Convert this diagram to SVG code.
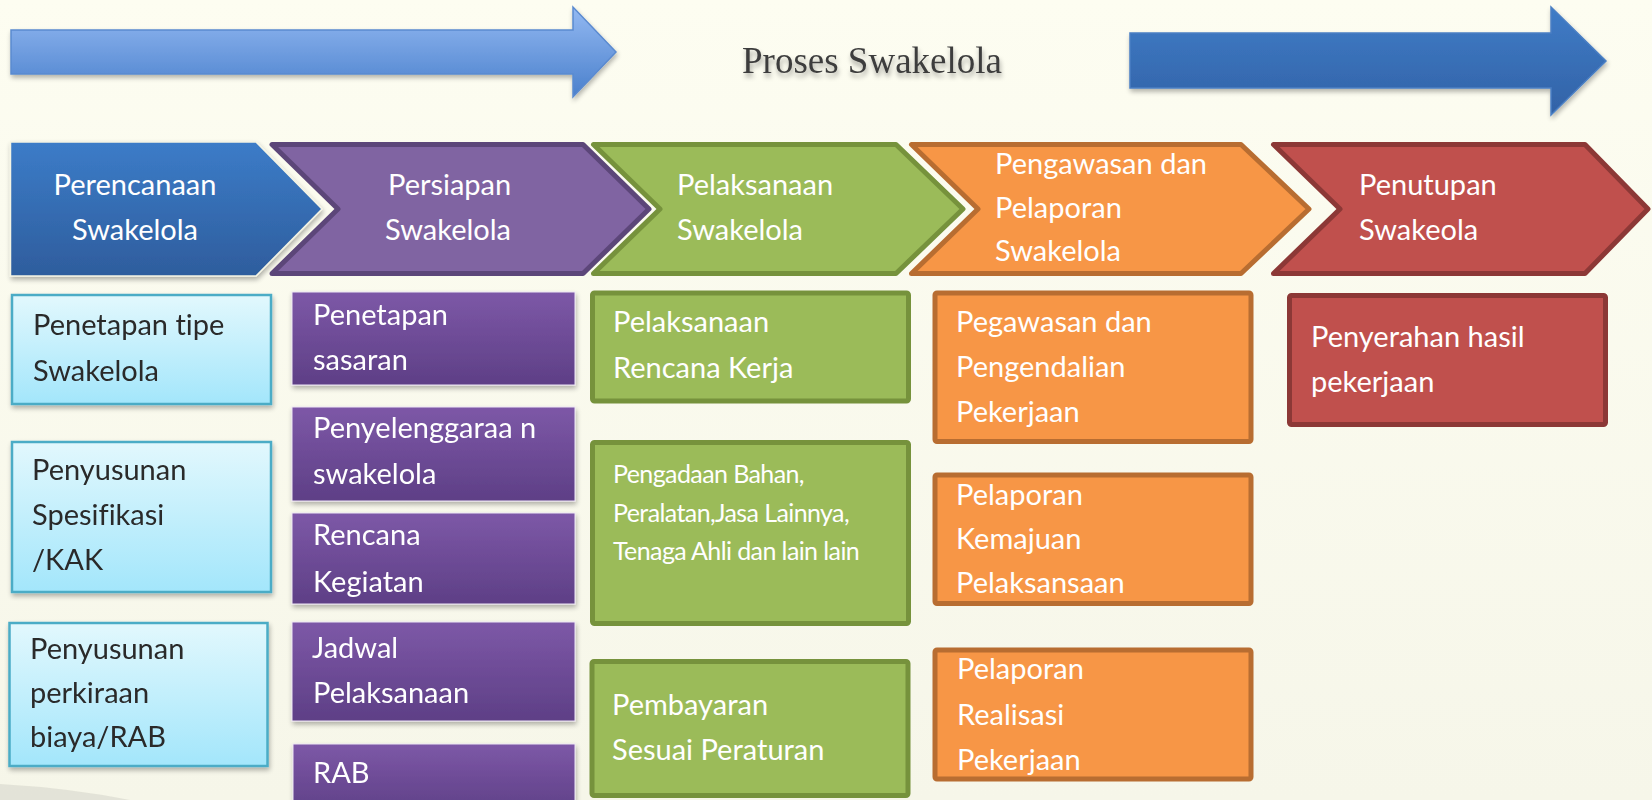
<svg xmlns="http://www.w3.org/2000/svg" width="1652" height="800" viewBox="0 0 1652 800">
<defs>
  <linearGradient id="bg" x1="0" y1="0" x2="0" y2="1">
    <stop offset="0" stop-color="#fdfdf1"/>
    <stop offset="1" stop-color="#f6f6e9"/>
  </linearGradient>
  <linearGradient id="gArrowL" x1="0" y1="0" x2="0" y2="1">
    <stop offset="0" stop-color="#93b9f2"/>
    <stop offset="1" stop-color="#4a80cc"/>
  </linearGradient>
  <linearGradient id="gArrowR" x1="0" y1="0" x2="0" y2="1">
    <stop offset="0" stop-color="#3f7cc7"/>
    <stop offset="1" stop-color="#3262a6"/>
  </linearGradient>
  <linearGradient id="gBlueChev" x1="0" y1="0" x2="0" y2="1">
    <stop offset="0" stop-color="#3c7cc8"/>
    <stop offset="1" stop-color="#2e5d9d"/>
  </linearGradient>
  <linearGradient id="gCyan" x1="0" y1="0" x2="0" y2="1">
    <stop offset="0" stop-color="#e2f8fd"/>
    <stop offset="1" stop-color="#a3e6fb"/>
  </linearGradient>
  <linearGradient id="gPurple" x1="0" y1="0" x2="0" y2="1">
    <stop offset="0" stop-color="#7d58a7"/>
    <stop offset="1" stop-color="#5e3f86"/>
  </linearGradient>
  <filter id="shadow" x="-10%" y="-10%" width="120%" height="130%">
    <feGaussianBlur in="SourceAlpha" stdDeviation="2.5"/>
    <feOffset dx="1" dy="3" result="b"/>
    <feComponentTransfer><feFuncA type="linear" slope="0.3"/></feComponentTransfer>
    <feMerge><feMergeNode/><feMergeNode in="SourceGraphic"/></feMerge>
  </filter>
  <filter id="tshadow" x="-10%" y="-30%" width="120%" height="180%">
    <feGaussianBlur in="SourceAlpha" stdDeviation="2.5"/>
    <feOffset dx="1" dy="4"/>
    <feComponentTransfer><feFuncA type="linear" slope="0.35"/></feComponentTransfer>
    <feMerge><feMergeNode/><feMergeNode in="SourceGraphic"/></feMerge>
  </filter>
</defs>
<style>
  .t { font-family: Lato, "Liberation Sans", sans-serif; font-size: 29px; font-variant-ligatures: none; }
  .w { fill: #ffffff; }
  .d { fill: #2a2a2a; }
  .sm { font-size: 25px; letter-spacing: -0.6px; }
  .cyan { fill: url(#gCyan); stroke: #4bacc6; stroke-width: 2.5; }
  .purp { fill: url(#gPurple); stroke: #ede6f4; stroke-width: 1; }
  .green { fill: #9bbb59; stroke: #76923c; stroke-width: 5; }
  .orange { fill: #f79646; stroke: #b86d31; stroke-width: 5; }
  .red { fill: #c0504d; stroke: #8c3836; stroke-width: 5; }
</style>
<rect width="1652" height="800" fill="url(#bg)"/>
<path d="M0,784 Q70,788 130,800 L0,800 Z" fill="#dcdcd0" opacity="0.7"/>

<g id="process-arrows">
  <polygon points="11,30 573,30 573,7 616,52 573,97 573,74 11,74" fill="url(#gArrowL)" stroke="#5a8ad0" stroke-width="1.5" filter="url(#shadow)"/>
  <polygon points="1130,33 1551,33 1551,7 1606,61 1551,115 1551,88 1130,88" fill="url(#gArrowR)" stroke="#4a7fc4" stroke-width="1.5" filter="url(#shadow)"/>
</g>

<g id="title">
  <text x="742" y="73" font-family="'Liberation Serif', 'Times New Roman', serif" font-size="37" fill="#3e3e3e" filter="url(#tshadow)">Proses Swakelola</text>
</g>

<g id="stage-perencanaan">
  <polygon points="10.5,142 256,142 322,209 256,276 10.5,276" fill="url(#gBlueChev)" stroke="#f4f4e4" stroke-width="1.5" filter="url(#shadow)"/>
  <text class="t w" x="135" y="195" text-anchor="middle">Perencanaan</text>
  <text class="t w" x="135" y="240" text-anchor="middle">Swakelola</text>
</g>
<g id="stage-persiapan">
  <polygon points="272,144.5 583,144.5 649,209 583,273.5 272,273.5 338,209" fill="#8064a2" stroke="#5c4679" stroke-width="5" stroke-linejoin="round"/>
  <text class="t w" x="388" y="195">Persiapan</text>
  <text class="t w" x="385" y="240">Swakelola</text>
</g>
<g id="stage-pelaksanaan">
  <polygon points="593.5,144.5 896,144.5 963,209 896,273.5 593.5,273.5 660,209" fill="#9bbb59" stroke="#76923c" stroke-width="5" stroke-linejoin="round"/>
  <text class="t w" x="677" y="195">Pelaksanaan</text>
  <text class="t w" x="677" y="240">Swakelola</text>
</g>
<g id="stage-pengawasan">
  <polygon points="911.5,144.5 1241,144.5 1309,209 1241,273.5 911.5,273.5 978,209" fill="#f79646" stroke="#b86d31" stroke-width="5" stroke-linejoin="round"/>
  <text class="t w" x="995" y="174">Pengawasan dan</text>
  <text class="t w" x="995" y="218">Pelaporan</text>
  <text class="t w" x="995" y="261">Swakelola</text>
</g>
<g id="stage-penutupan">
  <polygon points="1273.5,144.5 1585,144.5 1648,209 1585,273.5 1273.5,273.5 1340,209" fill="#c0504d" stroke="#8c3836" stroke-width="5" stroke-linejoin="round"/>
  <text class="t w" x="1359" y="195">Penutupan</text>
  <text class="t w" x="1359" y="240">Swakeola</text>
</g>

<g id="perencanaan-1" filter="url(#shadow)">
  <rect class="cyan" x="12" y="295" width="259" height="109"/>
  <text class="t d" x="33" y="335">Penetapan tipe</text>
  <text class="t d" x="33" y="381">Swakelola</text>
</g>
<g id="perencanaan-2" filter="url(#shadow)">
  <rect class="cyan" x="12" y="442" width="259" height="150"/>
  <text class="t d" x="32" y="480">Penyusunan</text>
  <text class="t d" x="32" y="525">Spesifikasi</text>
  <text class="t d" x="32" y="570">/KAK</text>
</g>
<g id="perencanaan-3" filter="url(#shadow)">
  <rect class="cyan" x="9.5" y="623" width="258" height="143"/>
  <text class="t d" x="30" y="659">Penyusunan</text>
  <text class="t d" x="30" y="703">perkiraan</text>
  <text class="t d" x="30" y="747">biaya/RAB</text>
</g>

<g id="persiapan-1" filter="url(#shadow)">
  <rect class="purp" x="292" y="292" width="283" height="93"/>
  <text class="t w" x="313" y="325">Penetapan</text>
  <text class="t w" x="313" y="370">sasaran</text>
</g>
<g id="persiapan-2" filter="url(#shadow)">
  <rect class="purp" x="292" y="407" width="283" height="94"/>
  <text class="t w" x="313" y="438">Penyelenggaraa n</text>
  <text class="t w" x="313" y="484">swakelola</text>
</g>
<g id="persiapan-3" filter="url(#shadow)">
  <rect class="purp" x="292" y="513" width="283" height="91"/>
  <text class="t w" x="313" y="545">Rencana</text>
  <text class="t w" x="313" y="592">Kegiatan</text>
</g>
<g id="persiapan-4" filter="url(#shadow)">
  <rect class="purp" x="292" y="622" width="283" height="99"/>
  <text class="t w" x="312" y="658">Jadwal</text>
  <text class="t w" x="313" y="703">Pelaksanaan</text>
</g>
<g id="persiapan-5" filter="url(#shadow)">
  <rect class="purp" x="293" y="744" width="282" height="70"/>
  <text class="t w" x="313" y="783">RAB</text>
</g>

<g id="pelaksanaan-1">
  <rect class="green" x="592.5" y="293" width="316" height="108" rx="2"/>
  <text class="t w" x="613" y="332">Pelaksanaan</text>
  <text class="t w" x="613" y="378">Rencana Kerja</text>
</g>
<g id="pelaksanaan-2">
  <rect class="green" x="592.5" y="442.5" width="316" height="181" rx="2"/>
  <text class="t w sm" x="613" y="483">Pengadaan Bahan,</text>
  <text class="t w sm" x="613" y="522">Peralatan,Jasa Lainnya,</text>
  <text class="t w sm" x="613" y="560">Tenaga Ahli dan lain lain</text>
</g>
<g id="pelaksanaan-3">
  <rect class="green" x="592" y="661.5" width="316" height="134" rx="2"/>
  <text class="t w" x="612" y="715">Pembayaran</text>
  <text class="t w" x="612" y="760">Sesuai Peraturan</text>
</g>

<g id="pengawasan-1">
  <rect class="orange" x="935" y="293" width="316" height="148.5" rx="2"/>
  <text class="t w" x="956" y="332">Pegawasan dan</text>
  <text class="t w" x="956" y="377">Pengendalian</text>
  <text class="t w" x="956" y="422">Pekerjaan</text>
</g>
<g id="pengawasan-2">
  <rect class="orange" x="935" y="475" width="316" height="128.5" rx="2"/>
  <text class="t w" x="956" y="505">Pelaporan</text>
  <text class="t w" x="956" y="549">Kemajuan</text>
  <text class="t w" x="956" y="593">Pelaksansaan</text>
</g>
<g id="pengawasan-3">
  <rect class="orange" x="935" y="650" width="316" height="129" rx="2"/>
  <text class="t w" x="957" y="679">Pelaporan</text>
  <text class="t w" x="957" y="725">Realisasi</text>
  <text class="t w" x="957" y="770">Pekerjaan</text>
</g>

<g id="penutupan-1">
  <rect class="red" x="1289.5" y="295.5" width="316" height="129" rx="2"/>
  <text class="t w" x="1311" y="347">Penyerahan hasil</text>
  <text class="t w" x="1311" y="392">pekerjaan</text>
</g>
</svg>
